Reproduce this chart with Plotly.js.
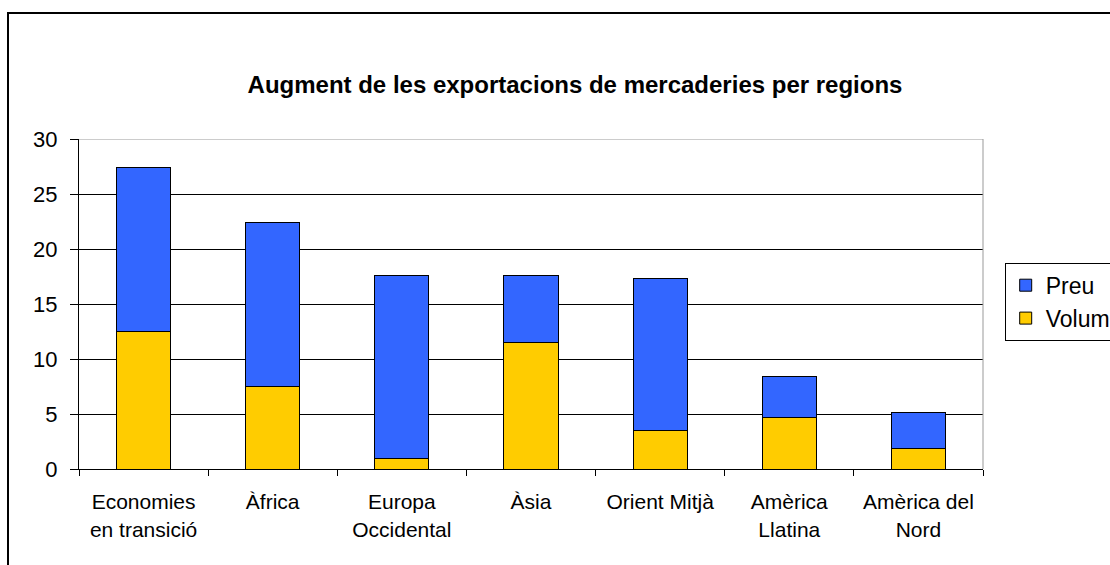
<!DOCTYPE html>
<html><head><meta charset="utf-8">
<script src="https://cdn.plot.ly/plotly-3.0.1.min.js"></script>
<style>
body{margin:0;padding:0;background:#fff;}
#wrap{position:relative;width:1110px;height:565px;overflow:hidden;}
#frame{position:absolute;left:7px;top:12px;width:1200px;height:700px;border:2px solid #000;box-sizing:border-box;pointer-events:none;z-index:5;}
#chart{position:absolute;left:0;top:0;width:1200px;height:565px;}
</style></head>
<body><div id="wrap"><div id="chart"></div><div id="frame"></div></div>
<script>
const categories = ["Economies<br>en transició","Àfrica","Europa<br>Occidental","Àsia","Orient Mitjà","Amèrica<br>Llatina","Amèrica del<br>Nord"];
const volum = [12.5, 7.5, 1.0, 11.5, 3.5, 4.7, 1.9];
const preu = [14.9, 14.9, 16.6, 6.1, 13.8, 3.7, 3.2];
const yTicks = [0,5,10,15,20,25,30];

const fam = "Liberation Sans, Arial, sans-serif";
const font = {family:fam, size:21, color:"#000"};
const traces = [
  {type:"bar", name:"Volum", x:categories, y:volum, marker:{color:"#FFCC00", line:{color:"#000", width:1}}},
  {type:"bar", name:"Preu", x:categories, y:preu, marker:{color:"#3366FF", line:{color:"#000", width:1}}}
];
const layout = {
  width:1200, height:565,
  margin:{l:79, r:217, t:139, b:96},
  barmode:"stack", bargap:0.58,
  paper_bgcolor:"#fff", plot_bgcolor:"#fff",
  font:font,
  title:{text:"<b>Augment de les exportacions de mercaderies per regions</b>", font:{family:fam, size:24, color:"#000"}, x:575/1200, xanchor:"center", y:0.85, yanchor:"middle"},
  xaxis:{showgrid:false, showline:true, linecolor:"#000", linewidth:1, ticks:"outside", tickson:"boundaries", ticklen:6, tickcolor:"#000", tickfont:font, ticklabelstandoff:14, fixedrange:true},
  yaxis:{range:[0,30], tickvals:yTicks, showgrid:true, gridcolor:"#000", gridwidth:1, showline:true, linecolor:"#000", linewidth:1, ticks:"outside", ticklen:8, tickcolor:"#000", tickfont:{family:fam, size:22, color:"#000"}, ticklabelstandoff:8, zeroline:false, fixedrange:true},
  legend:{x:1.024, xanchor:"left", y:0.625, yanchor:"top", traceorder:"reversed", bordercolor:"#000", borderwidth:1, font:{family:fam, size:23, color:"#000"}, bgcolor:"#fff", itemwidth:30},
  shapes:[
    {type:"line", xref:"paper", yref:"y", x0:0, x1:1, y0:30, y1:30, line:{color:"#999", width:1}, layer:"above"},
    {type:"line", xref:"paper", yref:"paper", x0:1, x1:1, y0:0, y1:1, line:{color:"#999", width:1}, layer:"above"}
  ],
  showlegend:true
};
Plotly.newPlot("chart", traces, layout, {displayModeBar:false, staticPlot:true});
</script></body></html>
